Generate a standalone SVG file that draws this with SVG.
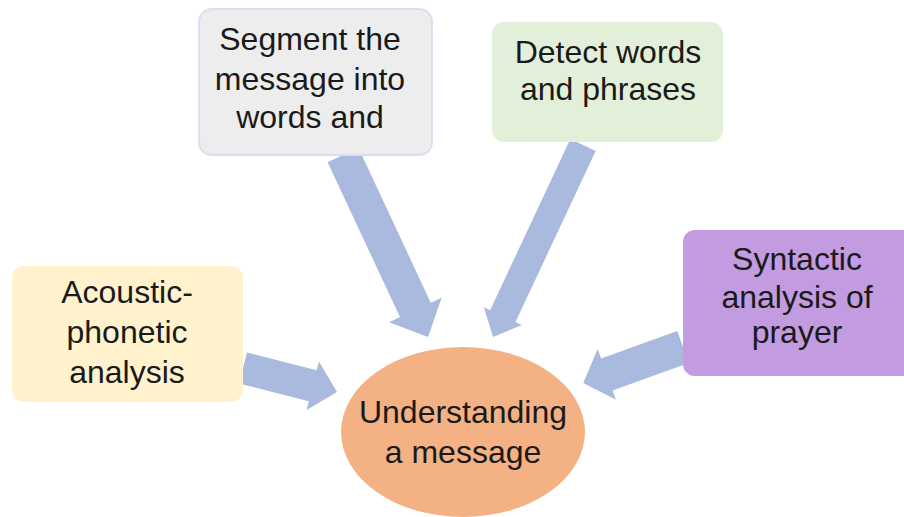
<svg xmlns="http://www.w3.org/2000/svg" width="904" height="517" viewBox="0 0 904 517">
<style>
.t{font-family:"Liberation Sans",Arial,sans-serif;font-size:32px;fill:#1a1a1a;text-anchor:middle}
.a{fill:#aab9de}
</style>
<rect width="904" height="517" fill="#ffffff"/>
<g id="connectors">
<polygon class="a" transform="translate(343,155) rotate(64.96)" points="0,-17 171,-17 171,-29 201,0 171,29 171,17 0,17"/>
<polygon class="a" transform="translate(583,145) rotate(115.1)" points="0,-14 189,-14 189,-21 212,0 189,21 189,14 0,14"/>
<polygon class="a" transform="translate(243,368) rotate(14.3)" points="0,-16 72,-16 72,-25 97,0 72,25 72,16 0,16"/>
<polygon class="a" transform="translate(683,347) rotate(160.2)" points="0,-17 81,-17 81,-27 106,0 81,27 81,17 0,17"/>
</g>
<g id="segment">
<rect x="199" y="9" width="233" height="146" rx="13" fill="#ededed" stroke="#d8e0f0" stroke-width="2"/>
<text class="t" x="310" y="50">Segment the</text>
<text class="t" x="310" y="90">message into</text>
<text class="t" x="310" y="128">words and</text>
</g>
<g id="detect">
<rect x="492" y="22" width="231" height="120" rx="12" fill="#e2efd9"/>
<text class="t" x="608" y="63">Detect words</text>
<text class="t" x="608" y="100">and phrases</text>
</g>
<g id="acoustic">
<rect x="12" y="266" width="231" height="136" rx="12" fill="#fff2cc"/>
<text class="t" x="127" y="303">Acoustic-</text>
<text class="t" x="127" y="343">phonetic</text>
<text class="t" x="127" y="383">analysis</text>
</g>
<g id="syntactic">
<rect x="683" y="230" width="240" height="146" rx="12" fill="#c39be0"/>
<text class="t" x="797" y="270">Syntactic</text>
<text class="t" x="797" y="308">analysis of</text>
<text class="t" x="797" y="343">prayer</text>
</g>
<g id="understanding">
<ellipse cx="463" cy="432" rx="122" ry="85" fill="#f4b183"/>
<text class="t" x="463" y="423">Understanding</text>
<text class="t" x="463" y="463">a message</text>
</g>
</svg>
